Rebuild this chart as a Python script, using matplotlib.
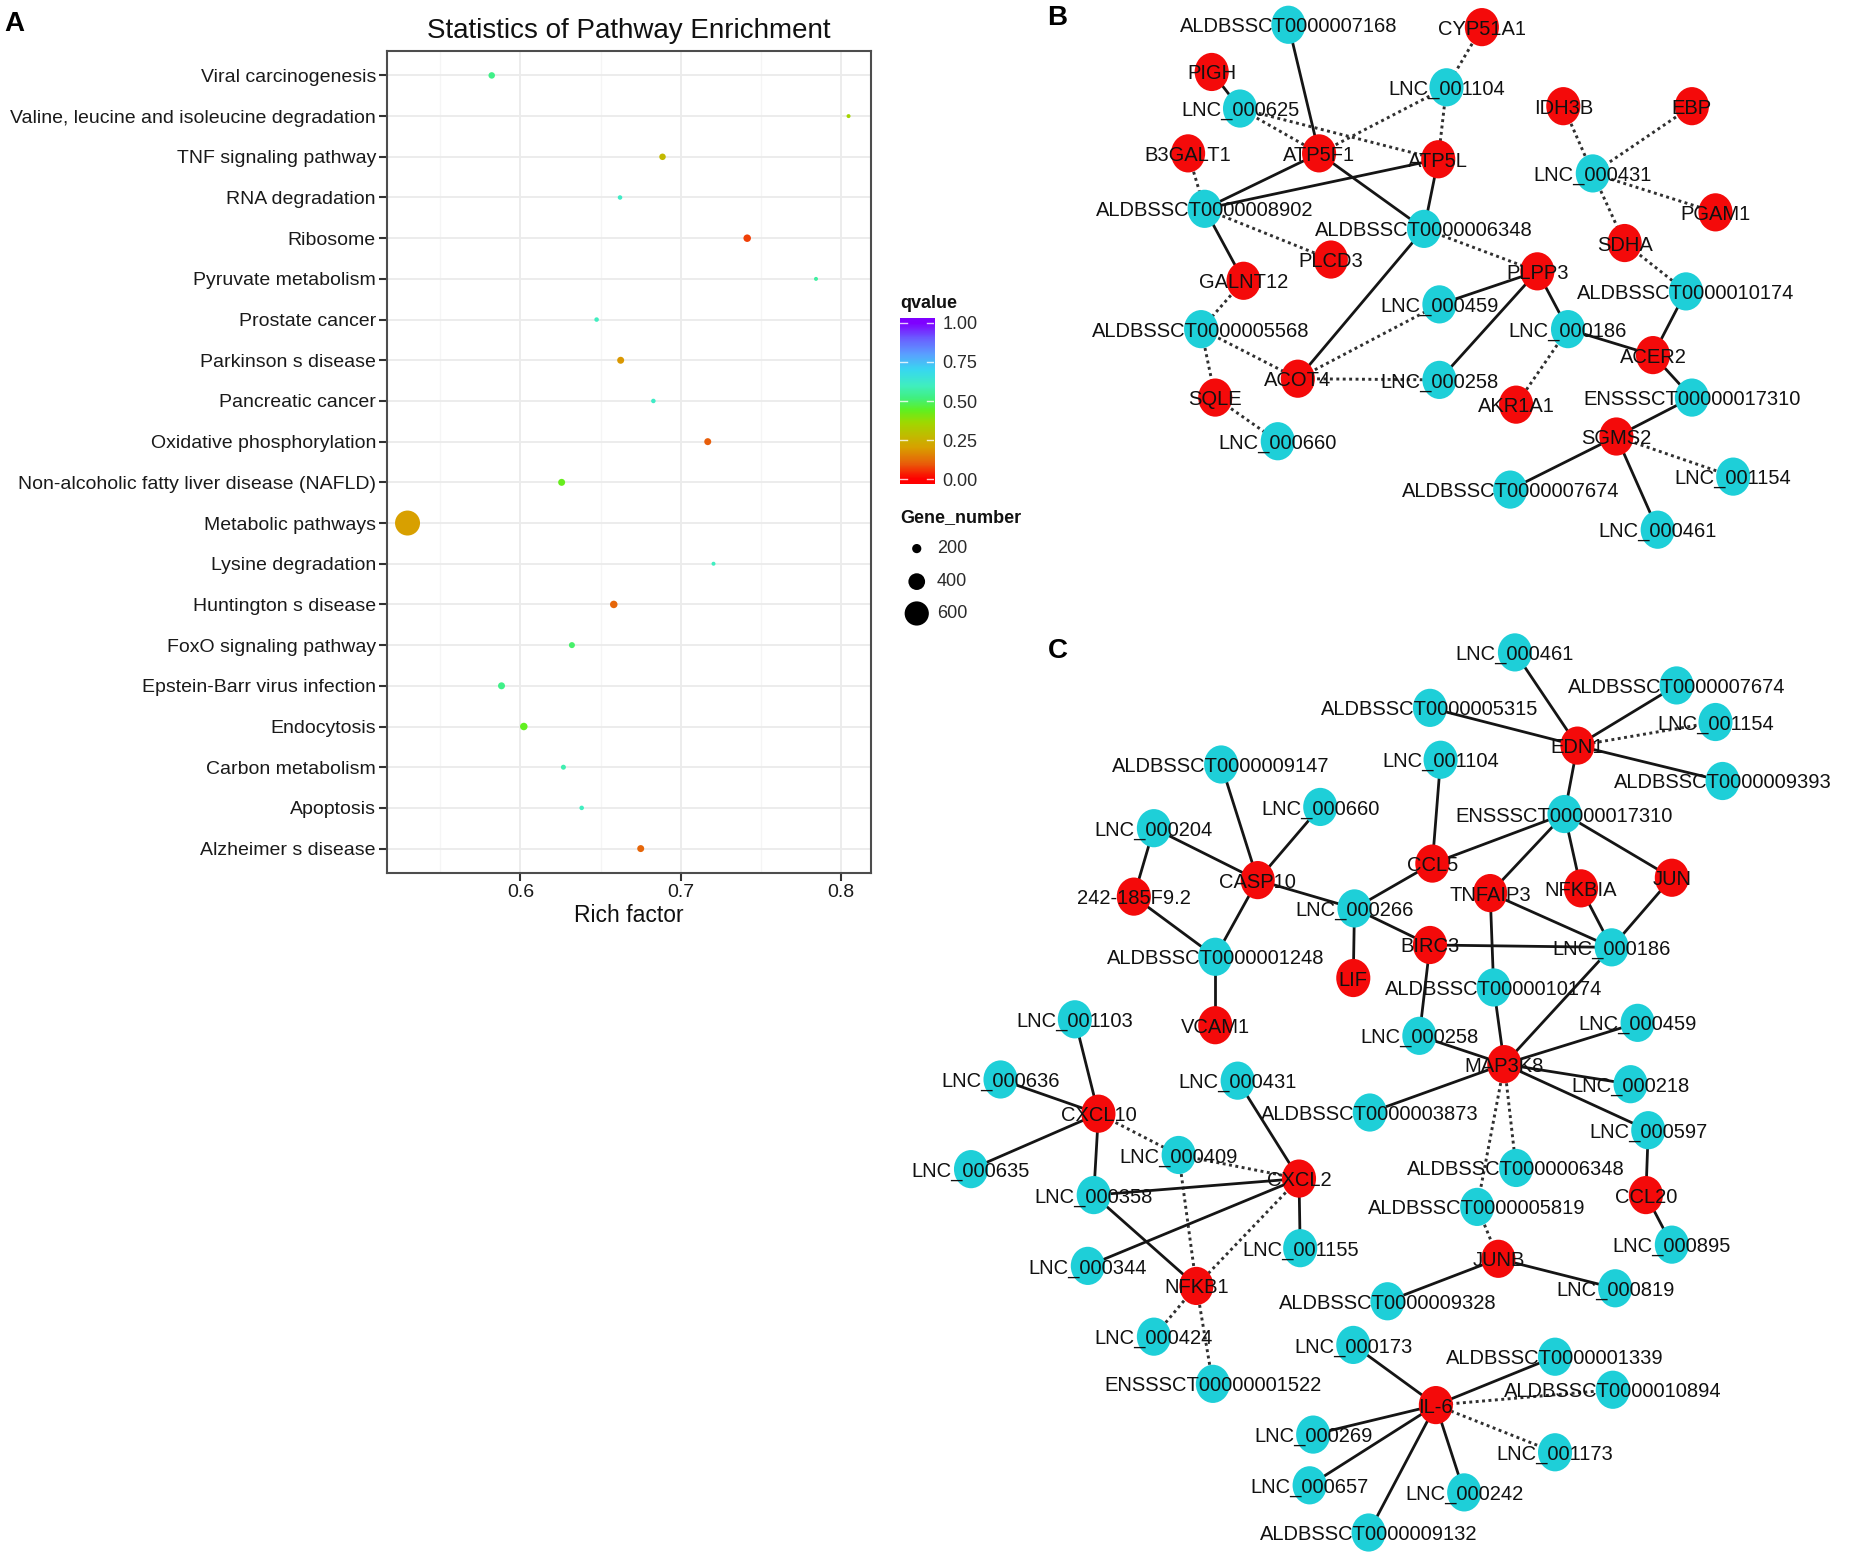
import numpy as np
import matplotlib
matplotlib.use("Agg")
import matplotlib.pyplot as plt
from matplotlib.colors import LinearSegmentedColormap
from matplotlib.path import Path

plt.rcParams['font.family'] = ['Liberation Sans', 'DejaVu Sans']

# ---------------- Panel A data ----------------
pathways = [
    "Viral carcinogenesis",
    "Valine, leucine and isoleucine degradation",
    "TNF signaling pathway",
    "RNA degradation",
    "Ribosome",
    "Pyruvate metabolism",
    "Prostate cancer",
    "Parkinson s disease",
    "Pancreatic cancer",
    "Oxidative phosphorylation",
    "Non-alcoholic fatty liver disease (NAFLD)",
    "Metabolic pathways",
    "Lysine degradation",
    "Huntington s disease",
    "FoxO signaling pathway",
    "Epstein-Barr virus infection",
    "Endocytosis",
    "Carbon metabolism",
    "Apoptosis",
    "Alzheimer s disease",
]
rich_factor = [0.5821, 0.8046, 0.6886, 0.6621, 0.7414, 0.7843, 0.6475, 0.6625, 0.6829, 0.7168,
               0.6257, 0.5296, 0.7204, 0.6582, 0.6321, 0.5882, 0.6021, 0.6268, 0.6382, 0.6750]
qvalue = [0.53, 0.35, 0.27, 0.61, 0.07, 0.56, 0.60, 0.19, 0.61, 0.10,
          0.43, 0.20, 0.60, 0.11, 0.50, 0.53, 0.44, 0.58, 0.60, 0.11]
gene_number = [128, 61, 128, 75, 155, 61, 75, 141, 75, 141,
               141, 621, 61, 155, 115, 141, 155, 88, 75, 141]
size_legend_values = [200, 400, 600]
colorbar_ticks = [0.0, 0.25, 0.5, 0.75, 1.0]
x_major_ticks = [0.6, 0.7, 0.8]
x_minor_ticks = [0.55, 0.65, 0.75]

# ---------------- Panel B network ----------------
b_names = ["ALDBSSCT0000007168", "CYP51A1", "PIGH", "LNC_001104", "LNC_000625", "IDH3B", "EBP",
           "B3GALT1", "ATP5F1", "ATP5L", "LNC_000431", "PGAM1", "ALDBSSCT0000008902",
           "ALDBSSCT0000006348", "SDHA", "PLCD3", "PLPP3", "GALNT12", "ALDBSSCT0000010174",
           "LNC_000459", "ALDBSSCT0000005568", "LNC_000186", "ACER2", "ACOT4", "LNC_000258",
           "SQLE", "AKR1A1", "ENSSSCT00000017310", "SGMS2", "LNC_000660", "LNC_001154",
           "ALDBSSCT0000007674", "LNC_000461"]
b_x = [1092, 1256, 1027, 1226, 1051, 1325, 1434, 1007, 1118, 1219, 1350, 1454, 1021, 1207, 1377,
       1128, 1303, 1054, 1429, 1220, 1018, 1329, 1401, 1100, 1220, 1030, 1285, 1434, 1370, 1083,
       1469, 1280, 1405]
b_y = [21, 23, 61, 74, 92, 90, 90, 130, 130, 135, 147, 180, 177, 194, 206, 220, 230, 238, 247,
       258, 279, 279, 301, 321, 322, 337, 343, 337, 370, 374, 404, 415, 449]
b_kind = ["l", "g", "g", "l", "l", "g", "g", "g", "g", "g", "l", "g", "l", "l", "g", "g", "g", "g",
          "l", "l", "l", "l", "g", "g", "l", "g", "g", "l", "g", "l", "l", "l", "l"]
b_edges = [
    ("ALDBSSCT0000007168", "ATP5F1", "solid"),
    ("CYP51A1", "LNC_001104", "dotted"),
    ("PIGH", "LNC_000625", "solid"),
    ("LNC_001104", "ATP5F1", "dotted"),
    ("LNC_001104", "ATP5L", "dotted"),
    ("LNC_000625", "ATP5L", "dotted"),
    ("LNC_000625", "ATP5F1", "dotted"),
    ("B3GALT1", "ALDBSSCT0000008902", "dotted"),
    ("ATP5F1", "ALDBSSCT0000008902", "solid"),
    ("ATP5L", "ALDBSSCT0000008902", "solid"),
    ("ATP5F1", "ALDBSSCT0000006348", "solid"),
    ("ATP5L", "ALDBSSCT0000006348", "solid"),
    ("ALDBSSCT0000008902", "PLCD3", "dotted"),
    ("ALDBSSCT0000008902", "GALNT12", "solid"),
    ("ALDBSSCT0000006348", "PLPP3", "dotted"),
    ("ALDBSSCT0000006348", "ACOT4", "solid"),
    ("GALNT12", "ALDBSSCT0000005568", "dotted"),
    ("ALDBSSCT0000005568", "SQLE", "dotted"),
    ("ALDBSSCT0000005568", "ACOT4", "dotted"),
    ("SQLE", "LNC_000660", "dotted"),
    ("ACOT4", "LNC_000459", "dotted"),
    ("ACOT4", "LNC_000258", "dotted"),
    ("PLPP3", "LNC_000459", "solid"),
    ("PLPP3", "LNC_000258", "solid"),
    ("PLPP3", "LNC_000186", "solid"),
    ("LNC_000186", "ACER2", "solid"),
    ("LNC_000186", "AKR1A1", "dotted"),
    ("IDH3B", "LNC_000431", "dotted"),
    ("EBP", "LNC_000431", "dotted"),
    ("LNC_000431", "PGAM1", "dotted"),
    ("LNC_000431", "SDHA", "dotted"),
    ("SDHA", "ALDBSSCT0000010174", "dotted"),
    ("ALDBSSCT0000010174", "ACER2", "solid"),
    ("ACER2", "ENSSSCT00000017310", "solid"),
    ("ENSSSCT00000017310", "SGMS2", "solid"),
    ("SGMS2", "LNC_001154", "dotted"),
    ("SGMS2", "ALDBSSCT0000007674", "solid"),
    ("SGMS2", "LNC_000461", "solid"),
]

# ---------------- Panel C network ----------------
c_names = ["LNC_000461", "ALDBSSCT0000007674", "ALDBSSCT0000005315", "LNC_001154", "EDN1",
           "ALDBSSCT0000009147", "LNC_001104", "ALDBSSCT0000009393", "LNC_000660",
           "ENSSSCT00000017310", "LNC_000204", "CCL5", "CASP10", "TNFAIP3", "NFKBIA", "JUN",
           "242-185F9.2", "LNC_000266", "BIRC3", "LNC_000186", "ALDBSSCT0000001248", "LIF",
           "ALDBSSCT0000010174", "VCAM1", "LNC_001103", "LNC_000258", "LNC_000459", "MAP3K8",
           "LNC_000636", "LNC_000431", "LNC_000218", "ALDBSSCT0000003873", "CXCL10", "LNC_000409",
           "LNC_000597", "LNC_000635", "ALDBSSCT0000006348", "CXCL2", "CCL20", "LNC_000358",
           "ALDBSSCT0000005819", "LNC_001155", "LNC_000895", "JUNB", "LNC_000344", "NFKB1",
           "LNC_000819", "ALDBSSCT0000009328", "LNC_000424", "LNC_000173", "ALDBSSCT0000001339",
           "ALDBSSCT0000010894", "ENSSSCT00000001522", "IL-6", "LNC_001173", "LNC_000269",
           "LNC_000657", "LNC_000242", "ALDBSSCT0000009132"]
c_x = [1284, 1421, 1212, 1454, 1337, 1035, 1221, 1460, 1119, 1326, 978, 1214, 1066, 1263, 1340,
       1417, 961, 1148, 1212, 1366, 1030, 1147, 1266, 1030, 911, 1203, 1388, 1275, 848, 1049,
       1382, 1161, 931, 999, 1397, 823, 1285, 1101, 1395, 927, 1252, 1102, 1417, 1270, 922, 1014,
       1369, 1176, 978, 1147, 1318, 1367, 1028, 1217, 1318, 1113, 1110, 1241, 1160]
c_y = [553, 581, 600, 612, 632, 648, 644, 662, 684, 690, 702, 732, 746, 757, 753, 744, 760, 770,
       801, 803, 811, 829, 837, 869, 864, 878, 867, 902, 915, 916, 919, 943, 944, 979, 958, 991,
       990, 999, 1013, 1013, 1023, 1058, 1055, 1067, 1073, 1090, 1092, 1103, 1133, 1140, 1150,
       1178, 1173, 1191, 1231, 1216, 1259, 1265, 1299]
c_kind = ["l", "l", "l", "l", "g", "l", "l", "l", "l", "l", "l", "g", "g", "g", "g", "g", "g", "l",
          "g", "l", "l", "g", "l", "g", "l", "l", "l", "g", "l", "l", "l", "l", "g", "l", "l", "l",
          "l", "g", "g", "l", "l", "l", "l", "g", "l", "g", "l", "l", "l", "l", "l", "l", "l", "g",
          "l", "l", "l", "l", "l"]
c_edges = [
    ("LNC_000461", "EDN1", "solid"),
    ("ALDBSSCT0000007674", "EDN1", "solid"),
    ("ALDBSSCT0000005315", "EDN1", "solid"),
    ("LNC_001154", "EDN1", "dotted"),
    ("ALDBSSCT0000009393", "EDN1", "solid"),
    ("EDN1", "ENSSSCT00000017310", "solid"),
    ("ENSSSCT00000017310", "CCL5", "solid"),
    ("ENSSSCT00000017310", "TNFAIP3", "solid"),
    ("ENSSSCT00000017310", "NFKBIA", "solid"),
    ("ENSSSCT00000017310", "JUN", "solid"),
    ("LNC_001104", "CCL5", "solid"),
    ("CCL5", "LNC_000266", "solid"),
    ("ALDBSSCT0000009147", "CASP10", "solid"),
    ("LNC_000660", "CASP10", "solid"),
    ("LNC_000204", "CASP10", "solid"),
    ("LNC_000204", "242-185F9.2", "solid"),
    ("CASP10", "LNC_000266", "solid"),
    ("CASP10", "ALDBSSCT0000001248", "solid"),
    ("242-185F9.2", "ALDBSSCT0000001248", "solid"),
    ("ALDBSSCT0000001248", "VCAM1", "solid"),
    ("LNC_000266", "BIRC3", "solid"),
    ("LNC_000266", "LIF", "solid"),
    ("BIRC3", "LNC_000186", "solid"),
    ("BIRC3", "LNC_000258", "solid"),
    ("TNFAIP3", "LNC_000186", "solid"),
    ("TNFAIP3", "ALDBSSCT0000010174", "solid"),
    ("NFKBIA", "LNC_000186", "solid"),
    ("JUN", "LNC_000186", "solid"),
    ("LNC_000186", "MAP3K8", "solid"),
    ("ALDBSSCT0000010174", "MAP3K8", "solid"),
    ("LNC_000258", "MAP3K8", "solid"),
    ("LNC_000459", "MAP3K8", "solid"),
    ("LNC_000218", "MAP3K8", "solid"),
    ("LNC_000597", "MAP3K8", "solid"),
    ("ALDBSSCT0000003873", "MAP3K8", "solid"),
    ("MAP3K8", "ALDBSSCT0000006348", "dotted"),
    ("MAP3K8", "ALDBSSCT0000005819", "dotted"),
    ("ALDBSSCT0000005819", "JUNB", "dotted"),
    ("JUNB", "ALDBSSCT0000009328", "solid"),
    ("JUNB", "LNC_000819", "solid"),
    ("LNC_000597", "CCL20", "solid"),
    ("CCL20", "LNC_000895", "solid"),
    ("LNC_001103", "CXCL10", "solid"),
    ("LNC_000636", "CXCL10", "solid"),
    ("LNC_000635", "CXCL10", "solid"),
    ("CXCL10", "LNC_000358", "solid"),
    ("CXCL10", "LNC_000409", "dotted"),
    ("LNC_000409", "CXCL2", "dotted"),
    ("LNC_000409", "NFKB1", "dotted"),
    ("LNC_000431", "CXCL2", "solid"),
    ("LNC_000358", "CXCL2", "solid"),
    ("LNC_000344", "CXCL2", "solid"),
    ("CXCL2", "LNC_001155", "solid"),
    ("CXCL2", "NFKB1", "dotted"),
    ("LNC_000358", "NFKB1", "solid"),
    ("NFKB1", "LNC_000424", "dotted"),
    ("NFKB1", "ENSSSCT00000001522", "dotted"),
    ("LNC_000173", "IL-6", "solid"),
    ("ALDBSSCT0000001339", "IL-6", "solid"),
    ("ALDBSSCT0000010894", "IL-6", "dotted"),
    ("LNC_001173", "IL-6", "dotted"),
    ("LNC_000269", "IL-6", "solid"),
    ("LNC_000657", "IL-6", "solid"),
    ("LNC_000242", "IL-6", "solid"),
    ("ALDBSSCT0000009132", "IL-6", "solid"),
]

# ---------------- styles ----------------
W, H = 1850, 1562
cmap = LinearSegmentedColormap.from_list("qv", [
    (0.00, "#FF0000"), (0.10, "#E8600A"), (0.20, "#D8A000"), (0.28, "#C0BC00"),
    (0.36, "#A0D800"), (0.44, "#60F020"), (0.52, "#40F080"), (0.60, "#40EEC0"),
    (0.70, "#38D8F0"), (0.80, "#5AA0FF"), (0.90, "#6A60FF"), (1.00, "#7F00FF")])


def gene_size(n):
    d_px = 1.7 + 0.0375 * np.asarray(n, dtype=float)
    return (d_px * 72.0 / 100.0) ** 2


RED = "#F40A0A"
CYAN = "#1ECFD8"
circ = Path.unit_circle()
ELLIPSE = Path(circ.vertices * np.array([1.0, 1.12]), circ.codes)
NODE_S = 27.5 ** 2

fig = plt.figure(figsize=(W / 100, H / 100), dpi=100)

# ---------------- Panel A ----------------
axA = fig.add_axes([387 / W, 1 - 873 / H, 484 / W, 822 / H])
n = len(pathways)
ypos = np.arange(n)[::-1]
axA.scatter(rich_factor, ypos, s=gene_size(gene_number), c=qvalue, cmap=cmap,
            vmin=0, vmax=1, linewidths=0, zorder=3)
axA.set_xlim(0.5168, 0.8186)
axA.set_ylim(-0.6, n - 1 + 0.6)
axA.set_yticks(ypos)
axA.set_yticklabels(pathways)
axA.set_xticks(x_major_ticks)
axA.set_xticklabels([f"{t:.1f}" for t in x_major_ticks])
axA.set_xticks(x_minor_ticks, minor=True)
axA.grid(which="major", color="#EBEBEB", lw=1.3, zorder=0)
axA.grid(which="minor", axis="x", color="#F5F5F5", lw=1.0, zorder=0)
axA.set_axisbelow(True)
axA.tick_params(which="major", length=5.5, width=1.5, color="#333333",
                labelsize=14, labelcolor="#1a1a1a", pad=2.5)
axA.tick_params(which="minor", length=0)
for sp in axA.spines.values():
    sp.set_color("#4d4d4d")
    sp.set_linewidth(1.5)
axA.set_xlabel("Rich factor", fontsize=16.5, labelpad=2, color="#111111")
axA.set_title("Statistics of Pathway Enrichment", fontsize=20, pad=9, color="#111111")

# colorbar legend
cb_lo, cb_hi = -0.03, 1.03
cax = fig.add_axes([900 / W, 1 - 483.7 / H, 34 / W, 165.4 / H])
grad = np.linspace(cb_lo, cb_hi, 300).reshape(-1, 1)
cax.imshow(grad, origin="lower", extent=[0, 1, cb_lo, cb_hi], aspect="auto",
           cmap=cmap, vmin=0, vmax=1)
cax.set_xlim(0, 1)
cax.set_ylim(cb_lo, cb_hi)
cax.set_xticks([])
cax.yaxis.tick_right()
cax.set_yticks(colorbar_ticks)
cax.set_yticklabels([f"{t:.2f}" for t in colorbar_ticks])
cax.tick_params(axis="y", length=0, pad=6, labelsize=13, labelcolor="#2a2a2a")
for sp in cax.spines.values():
    sp.set_visible(False)
for t in colorbar_ticks:
    cax.plot([0, 0.2], [t, t], color="white", lw=1.0, alpha=0.8)
    cax.plot([0.8, 1], [t, t], color="white", lw=1.0, alpha=0.8)

# ---------------- overlay (legend texts, panel letters, networks) ----------------
ov = fig.add_axes([0, 0, 1, 1])
ov.set_xlim(0, 1568)
ov.set_ylim(1324, 0)
ov.axis("off")

for letter, lx, ly in [("A", 12, 20), ("B", 896, 15), ("C", 897, 552)]:
    ov.text(lx, ly, letter, fontsize=20, fontweight="bold", ha="center", va="center",
            color="black")

ov.text(763, 257, "qvalue", fontsize=13, fontweight="bold", ha="left", va="center",
        color="#111111")
ov.text(763, 439, "Gene_number", fontsize=13, fontweight="bold", ha="left", va="center",
        color="#111111")
leg_y = [465, 493, 520]
ov.scatter([777] * len(size_legend_values), leg_y, s=gene_size(size_legend_values),
           color="black", linewidths=0)
for v, yy in zip(size_legend_values, leg_y):
    ov.text(794, yy, str(v), fontsize=13, ha="left", va="center", color="#2a2a2a")


def draw_network(ax, names, xs, ys, kinds, edges):
    pos = {nm: (x, y) for nm, x, y in zip(names, xs, ys)}
    for a, b, style in edges:
        (x1, y1), (x2, y2) = pos[a], pos[b]
        if style == "solid":
            ax.plot([x1, x2], [y1, y2], color="#151515", lw=2.0, zorder=1,
                    solid_capstyle="round")
        else:
            ax.plot([x1, x2], [y1, y2], color="#303030", lw=2.1, zorder=1,
                    linestyle=(0, (1.0, 1.2)))
    cols = [RED if k == "g" else CYAN for k in kinds]
    ax.scatter(xs, ys, s=NODE_S, marker=ELLIPSE, c=cols, linewidths=0, zorder=2)
    for nm, x, y in zip(names, xs, ys):
        ax.text(x, y, nm, fontsize=14.5, ha="center", va="center_baseline",
                color="#111111", zorder=3)


draw_network(ov, b_names, b_x, b_y, b_kind, b_edges)
draw_network(ov, c_names, c_x, c_y, c_kind, c_edges)

fig.savefig("out.png", dpi=100, facecolor="white")
